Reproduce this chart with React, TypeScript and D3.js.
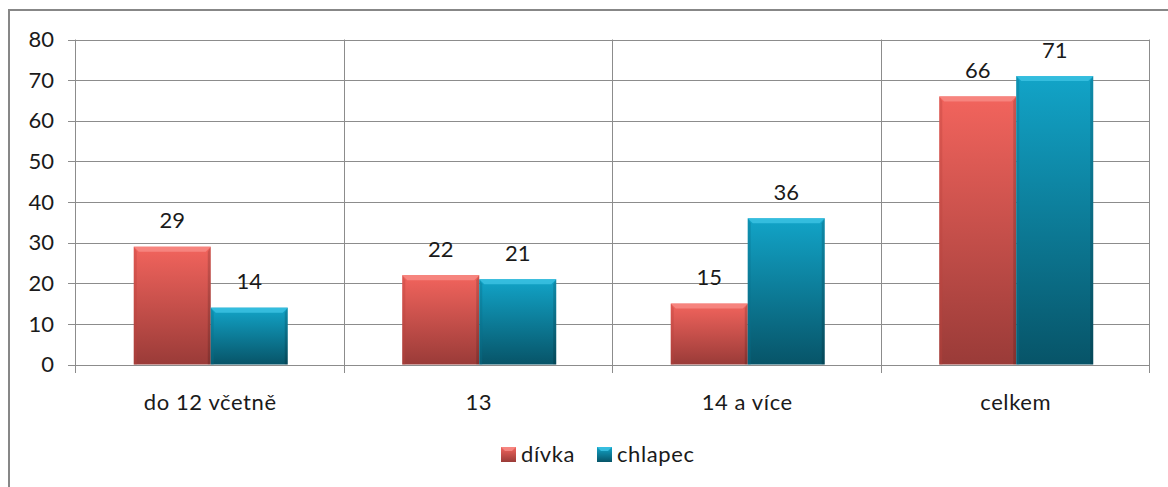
import React from "react";
import * as d3 from "d3";

const categories = ["do 12 včetně", "13", "14 a více", "celkem"];
const series = ["dívka", "chlapec"];
const divkaValues = [29, 22, 15, 66];
const chlapecValues = [14, 21, 36, 71];
const yTicks = [0, 10, 20, 30, 40, 50, 60, 70, 80];

const W = 1168;
const H = 487;
const left = 75;
const right = 1149;
const top = 39.5;
const bottom = 364.5;
const FONT = "Lato, 'Open Sans', sans-serif";
const FS = 22;

const palette = {
  dívka: { top: "#f2645d", bottom: "#9a3b38", bevel: "#f88f89", edge: "#b9413d" },
  chlapec: { top: "#12a4c8", bottom: "#075468", bevel: "#40c6e6", edge: "#0a6f89" },
};

export default function App() {
  const x = d3.scaleBand<string>().domain(categories).range([left, right]).padding(0);
  const bw = x.bandwidth();
  const inner = d3.scaleBand<string>().domain(series).range([0, bw]).paddingInner(0).paddingOuter(0.744);
  const y = d3.scaleLinear().domain([0, 80]).range([bottom, top]);
  const valuesBySeries: Record<string, number[]> = { dívka: divkaValues, chlapec: chlapecValues };
  const barW = inner.bandwidth();
  const bev = 5;
  const shift = 1.5;

  return (
    <svg width={W} height={H} style={{ position: "absolute", left: 0, top: 0, background: "#fff" }}>
      <defs>
        {series.map((s, i) => (
          <linearGradient key={s} id={`g${i}`} x1="0" y1="0" x2="0" y2="1">
            <stop offset="0" stopColor={palette[s as keyof typeof palette].top} />
            <stop offset="1" stopColor={palette[s as keyof typeof palette].bottom} />
          </linearGradient>
        ))}
      </defs>
      <rect x={9} y={10} width={1200} height={520} fill="#fff" stroke="#878787" strokeWidth={2} />
      {yTicks.map((t) => (
        <line key={t} x1={68} x2={right} y1={Math.round(y(t)) + 0.5} y2={Math.round(y(t)) + 0.5} stroke="#8c8c8c" strokeWidth={1} />
      ))}
      {[...categories.map((c) => x(c)!), right].map((v, i) => (
        <line key={i} x1={Math.round(v) + 0.5} x2={Math.round(v) + 0.5} y1={top} y2={373} stroke="#8c8c8c" strokeWidth={1} />
      ))}
      {yTicks.map((t) => (
        <text key={t} x={54} y={y(t)} dy="0.35em" textAnchor="end" fontFamily={FONT} fontSize={FS} fill="#1a1a1a">
          {t}
        </text>
      ))}
      {categories.map((c) => (
        <text key={c} x={x(c)! + bw / 2 + 1} y={402} dy="0.35em" textAnchor="middle" fontFamily={FONT} fontSize={FS} letterSpacing={0.6} fill="#1a1a1a">
          {c}
        </text>
      ))}
      {series.map((s, si) => {
        const p = palette[s as keyof typeof palette];
        return categories.map((c, ci) => {
          const v = valuesBySeries[s][ci];
          const x0 = x(c)! + inner(s)! + shift;
          const y0 = y(v);
          const h = bottom - y0;
          return (
            <g key={s + c}>
              <rect x={x0} y={y0} width={barW} height={h} fill={`url(#g${si})`} />
              <polygon
                points={`${x0},${y0} ${x0 + barW},${y0} ${x0 + barW - bev},${y0 + bev} ${x0 + bev},${y0 + bev}`}
                fill={p.bevel}
                opacity={0.75}
              />
              <polygon
                points={`${x0},${y0} ${x0 + 3},${y0 + bev} ${x0 + 3},${bottom} ${x0},${bottom}`}
                fill={p.edge}
                opacity={0.35}
              />
              <polygon
                points={`${x0 + barW},${y0} ${x0 + barW - 3},${y0 + bev} ${x0 + barW - 3},${bottom} ${x0 + barW},${bottom}`}
                fill="#000"
                opacity={0.15}
              />
              <text x={x0 + barW / 2} y={y0 - 26} dy="0.35em" textAnchor="middle" fontFamily={FONT} fontSize={FS} fill="#1a1a1a">
                {v}
              </text>
            </g>
          );
        });
      })}
      {series.map((s, si) => {
        const lx = si === 0 ? 501 : 597;
        const p = palette[s as keyof typeof palette];
        return (
          <g key={s}>
            <rect x={lx} y={447} width={15} height={15} fill={`url(#g${si})`} />
            <polygon points={`${lx},447 ${lx + 15},447 ${lx + 11},451 ${lx + 4},451`} fill={p.bevel} opacity={0.8} />
            <text x={lx + 20} y={454.5} dy="0.35em" fontFamily={FONT} fontSize={FS} letterSpacing={0.6} fill="#1a1a1a">
              {s}
            </text>
          </g>
        );
      })}
    </svg>
  );
}
